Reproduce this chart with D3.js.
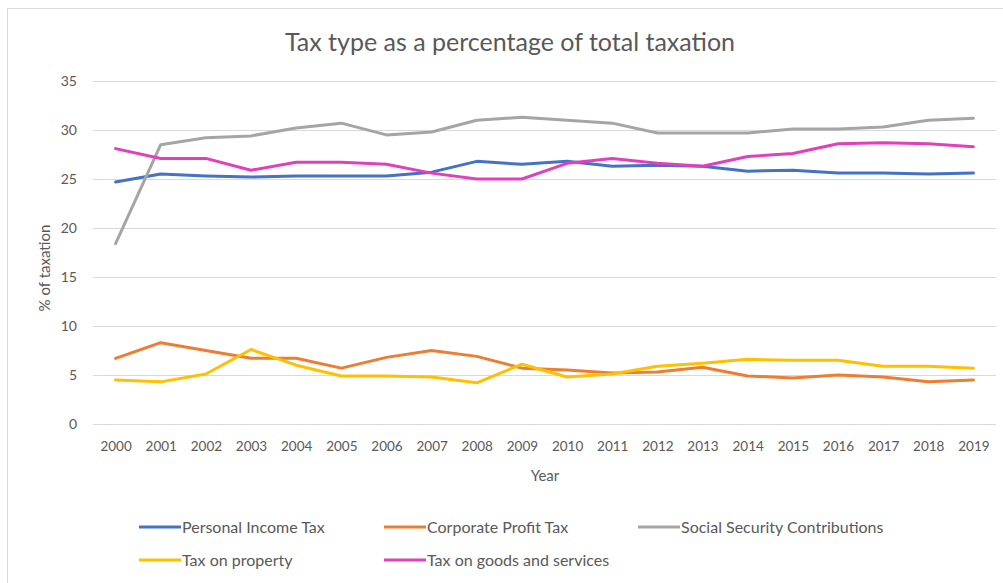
<!DOCTYPE html>
<html>
<head>
<meta charset="utf-8">
<script src="https://cdn.jsdelivr.net/npm/d3@7"></script>
<style>
  html, body { margin: 0; padding: 0; background: #fff; }
  svg { display: block; font-family: Lato, "Open Sans", sans-serif; }
</style>
</head>
<body>
<svg id="chart" width="1003" height="583"></svg>
<script>
// Years on the category axis
const years = ["2000","2001","2002","2003","2004","2005","2006","2007","2008","2009",
               "2010","2011","2012","2013","2014","2015","2016","2017","2018","2019"];

// Share of total taxation (%) by tax type
const personalIncomeTax = [24.7,25.5,25.3,25.2,25.3,25.3,25.3,25.7,26.8,26.5,26.8,26.3,26.4,26.3,25.8,25.9,25.6,25.6,25.5,25.6];
const corporateProfitTax = [6.7,8.3,7.5,6.7,6.7,5.7,6.8,7.5,6.9,5.7,5.5,5.2,5.3,5.8,4.9,4.7,5.0,4.8,4.3,4.5];
const socialSecurity = [18.4,28.5,29.2,29.4,30.2,30.7,29.5,29.8,31.0,31.3,31.0,30.7,29.7,29.7,29.7,30.1,30.1,30.3,31.0,31.2];
const taxOnProperty = [4.5,4.3,5.1,7.6,6.0,4.9,4.9,4.8,4.2,6.1,4.8,5.1,5.9,6.2,6.6,6.5,6.5,5.9,5.9,5.7];
const goodsAndServices = [28.1,27.1,27.1,25.9,26.7,26.7,26.5,25.6,25.0,25.0,26.6,27.1,26.6,26.3,27.3,27.6,28.6,28.7,28.6,28.3];

const seriesNames = ["Personal Income Tax","Corporate Profit Tax","Social Security Contributions",
                     "Tax on property","Tax on goods and services"];
const seriesColors = ["#4472C4","#ED7D31","#A5A5A5","#FFC000","#E040BE"];
const seriesValues = [personalIncomeTax, corporateProfitTax, socialSecurity, taxOnProperty, goodsAndServices];

const yTicks = [0,5,10,15,20,25,30,35];

const svg = d3.select("#chart");
const textColor = "#595959";

// Chart frame
svg.append("rect").attr("x", 7.5).attr("y", 8.5).attr("width", 1000).attr("height", 600)
  .attr("fill", "#fff").attr("stroke", "#d9d9d9").attr("stroke-width", 1);

const plotLeft = 93, plotRight = 996;
const step = (plotRight - plotLeft) / years.length;
const x = d3.scalePoint().domain(years).range([plotLeft + step / 2, plotRight - step / 2]);
const y = d3.scaleLinear().domain([0, 35]).range([424, 81]);

// Title
svg.append("text").attr("x", 510).attr("y", 51).attr("text-anchor", "middle")
  .attr("font-size", 25).attr("fill", textColor).text("Tax type as a percentage of total taxation");

// Y axis with gridlines
const yAxis = svg.append("g").attr("transform", `translate(${plotLeft},0)`)
  .call(d3.axisLeft(y).tickValues(yTicks).tickSize(-(plotRight - plotLeft)).tickPadding(16));
yAxis.select(".domain").remove();
yAxis.selectAll(".tick line").attr("stroke", "#d9d9d9").attr("stroke-width", 1);
yAxis.selectAll(".tick text").attr("fill", textColor).attr("font-size", 14)
  .attr("font-family", "Lato, 'Open Sans', sans-serif");

// X axis labels
const xAxis = svg.append("g").attr("transform", `translate(0,${y(0)})`)
  .call(d3.axisBottom(x).tickSize(0).tickPadding(17));
xAxis.select(".domain").remove();
xAxis.selectAll(".tick text").attr("fill", textColor).attr("font-size", 13.5)
  .attr("font-family", "Lato, 'Open Sans', sans-serif");

// Axis titles
svg.append("text").attr("x", 545).attr("y", 481).attr("text-anchor", "middle")
  .attr("font-size", 15).attr("fill", textColor).text("Year");
svg.append("text").attr("transform", "translate(50,268) rotate(-90)").attr("text-anchor", "middle")
  .attr("font-size", 15).attr("fill", textColor).text("% of taxation");

// Series lines
const line = d3.line().x((d, i) => x(years[i])).y(d => y(d));
seriesValues.forEach((vals, k) => {
  svg.append("path").datum(vals).attr("d", line)
    .attr("fill", "none").attr("stroke", seriesColors[k]).attr("stroke-width", 3)
    .attr("stroke-linejoin", "round").attr("stroke-linecap", "round");
});

// Legend
const legendCols = [139, 384, 638];
const legendRows = [527, 560];
seriesNames.forEach((name, k) => {
  const lx = legendCols[k % 3], ly = legendRows[Math.floor(k / 3)];
  const g = svg.append("g").attr("transform", `translate(${lx},${ly})`);
  g.append("line").attr("x1", 0).attr("x2", 42).attr("y1", 0).attr("y2", 0)
    .attr("stroke", seriesColors[k]).attr("stroke-width", 3);
  g.append("text").attr("x", 43).attr("y", 0).attr("dy", "0.35em")
    .attr("font-size", 16).attr("fill", textColor).text(name);
});
</script>
</body>
</html>
